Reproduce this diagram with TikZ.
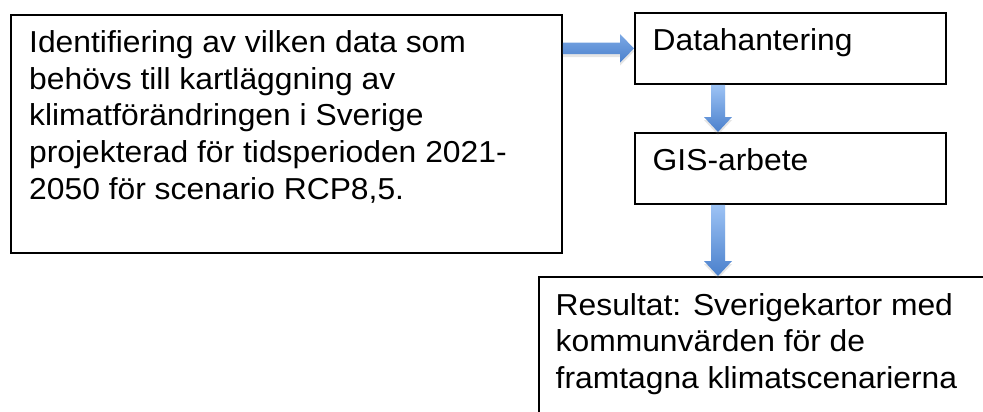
\documentclass[tikz,border=0pt]{standalone}
\usepackage{fontspec}
\setmainfont[FakeStretch=1.05]{Liberation Sans}
\usetikzlibrary{calc,shadows}
\definecolor{arrlight}{HTML}{9DC3F5}
\definecolor{arrdark}{HTML}{4A80CC}
\tikzset{
  box/.style={draw=black, line width=1.8pt, rectangle, inner sep=0pt, anchor=north west},
  label/.style={anchor=north west, inner sep=0pt, align=left,
    font=\fontsize{30.3}{36.75}\selectfont},
  blockshade/.style={top color=arrlight, bottom color=arrdark,
    drop shadow={shadow xshift=0pt, shadow yshift=-3pt, opacity=0.2, fill=gray}},
  hblockshade/.style={top color=arrlight!60!arrdark, bottom color=arrdark,
    drop shadow={shadow xshift=0pt, shadow yshift=-3pt, opacity=0.2, fill=gray}}
}
\newcommand\myharrow[2]{%
  \shade[hblockshade] let \p1=(#1), \p2=(#2) in
    (\x1,\y1+5.7pt) -- (\x2-14pt,\y1+5.7pt) -- (\x2-14pt,\y1+14.3pt) -- (\x2,\y1)
    -- (\x2-14pt,\y1-14.3pt) -- (\x2-14pt,\y1-5.7pt) -- (\x1,\y1-5.7pt) -- cycle;}
\newcommand\myvarrow[2]{%
  \shade[blockshade] let \p1=(#1), \p2=(#2) in
    (\x1-7pt,\y1) -- (\x1+7pt,\y1) -- (\x1+7pt,\y2+15pt) -- (\x1+14pt,\y2+15pt)
    -- (\x1,\y2) -- (\x1-14pt,\y2+15pt) -- (\x1-7pt,\y2+15pt) -- cycle;}
\begin{document}
\begin{tikzpicture}[x=1pt,y=-1pt]
  \clip (0,0) rectangle (983,412);
  \fill[white] (0,0) rectangle (983,412);
  % boxes
  \node[box, minimum width=551pt, minimum height=238pt] (b1) at (10,14) {};
  \node[box, minimum width=311pt, minimum height=71pt] (b2) at (634,12) {};
  \node[box, minimum width=311pt, minimum height=71pt] (b3) at (634,132) {};
  \node[box, minimum width=480pt, minimum height=170pt] (b4) at (538,276) {};
  % texts
  \node[label] (t1) at (29,26.5) {\strut Identifiering av vilken data som\\
    behövs till kartläggning av\\
    klimatförändringen i Sverige\\
    projekterad för tidsperioden 2021-\\
    2050 för scenario RCP8,5.};
  \node[label] (t2) at (652.5,24.3) {\strut Datahantering};
  \node[label] (t3) at (652.5,144.3) {\strut GIS-arbete};
  \node[label] (t4) at (555.5,289.3) {\strut Resultat: Sverigekartor med\\
    kommunvärden för de\\
    framtagna klimatscenarierna};
  % connector anchors
  \coordinate (a1s) at (b1.east |- b2.west);
  \coordinate (a2s) at ($(b2.south west)+(84,0)$);
  \coordinate (a2e) at ($(b3.north west)+(84,0)$);
  \coordinate (a3s) at ($(b3.south west)+(84,0)$);
  \coordinate (a3e) at (a3s |- b4.north);
  % arrows
  \myharrow{a1s}{b2.west}
  \myvarrow{a2s}{a2e}
  \myvarrow{a3s}{a3e}
\end{tikzpicture}
\end{document}
